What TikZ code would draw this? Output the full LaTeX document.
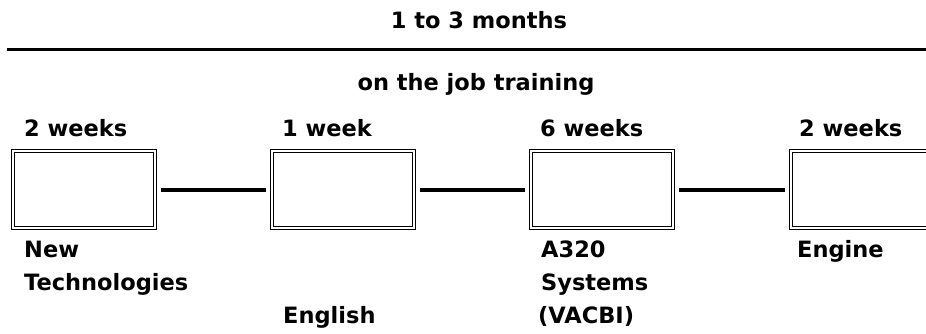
\documentclass[tikz,border=0pt]{standalone}
\usepackage{fontspec}
\setmainfont{DejaVu Sans}
\begin{document}
\begin{tikzpicture}[x=1pt,y=-1pt,
  lbl/.style={anchor=base west,inner sep=0pt,font=\bfseries\fontsize{22.5}{27}\selectfont},
  ttl/.style={anchor=base,inner sep=0pt,font=\bfseries\fontsize{22.5}{27}\selectfont},
  course/.style={draw,double,double distance=2pt,line width=1.2pt,
    minimum width=141.6pt,minimum height=76.6pt,inner sep=0pt,outer sep=6.2pt},
  link/.style={line width=4pt}]
  \clip (0,0) rectangle (926,333);
  \fill[white] (0,0) rectangle (926,333);

  % overall duration and the rule beneath it
  \node[ttl] (dur) at (479,28) {1 to 3 months};
  \coordinate (ruleL) at (7,49.5);
  \coordinate (ruleR) at (930,49.5);
  \draw[line width=3.5pt] (ruleL) -- (ruleR);
  \node[ttl] (ojt) at (476,90) {on the job training};

  % course boxes
  \node[course] (b1) at (84,189.5) {};
  \node[course] (b2) at (343,189.5) {};
  \node[course] (b3) at (602,189.5) {};
  \node[course] (b4) at (862,189.5) {};

  \draw[link] (b1) -- (b2);
  \draw[link] (b2) -- (b3);
  \draw[link] (b3) -- (b4);

  % durations
  \node[lbl] (d1) at (24,136) {2 weeks};
  \node[lbl] (d2) at (282,136) {1 week};
  \node[lbl] (d3) at (540,136) {6 weeks};
  \node[lbl] (d4) at (799,136) {2 weeks};

  % course titles
  \node[lbl] (t1a) at (24,257) {New};
  \node[lbl] (t1b) at (24,290) {Technologies};
  \node[lbl] (t2) at (283,323) {English};
  \node[lbl] (t3a) at (541,257) {A320};
  \node[lbl] (t3b) at (541,290) {Systems};
  \node[lbl] (t3c) at (538,323) {(VACBI)};
  \node[lbl] (t4) at (797,257) {Engine};
\end{tikzpicture}
\end{document}
